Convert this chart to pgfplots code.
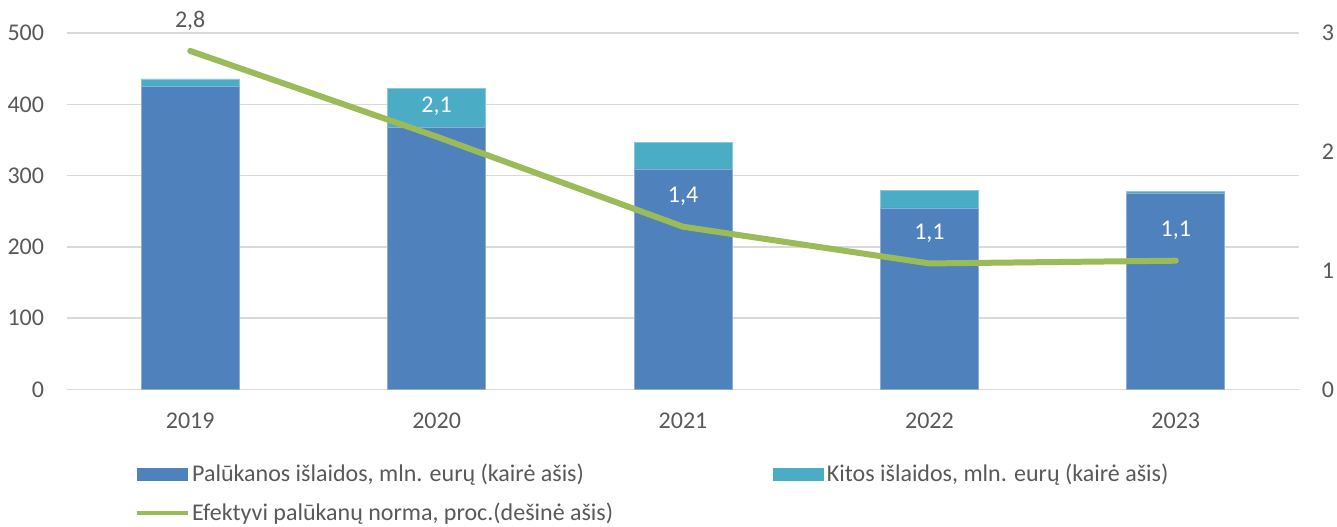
\documentclass[border=0pt]{standalone}
\usepackage{fontspec}
\setmainfont{Carlito}
\usepackage{pgfplots}
\pgfplotsset{compat=1.18}
\definecolor{bluebar}{HTML}{4F81BD}
\definecolor{cyanbar}{HTML}{4BACC6}
\definecolor{greenline}{HTML}{9BBB59}
\definecolor{txt}{HTML}{595959}
\definecolor{gridc}{HTML}{D9D9D9}
\newcommand\ff{\fontsize{18}{21.6}\selectfont}
\pgfplotsset{
    barkey/.style={legend image code/.code={\fill[##1] (0pt,-4.9pt) rectangle (38.25pt,4.9pt);}},
    linekey/.style={legend image code/.code={\draw[##1, line width=3pt, line cap=butt] (0pt,0pt) -- (38.25pt,0pt);}},
}
\begin{document}
\begin{tikzpicture}[font=\ff]
\useasboundingbox (0,0) rectangle (1002.75pt,395.25pt);
% bars, left axis
\begin{axis}[
    at={(50.25pt,103.1pt)}, anchor=south west,
    scale only axis, width=924pt, height=267.4pt,
    ybar stacked, bar width=73.5pt,
    xmin=-0.5, xmax=4.5,
    xtick={0,...,4}, xticklabels={2019,2020,2021,2022,2023},
    ymin=0, ymax=500, ytick={0,100,...,500},
    ymajorgrids, grid style={gridc, line width=1.2pt},
    axis line style={draw=none},
    major tick length=0pt,
    /pgf/number format/assume math mode=true,
    tick label style={font=\ff, text=txt},
    yticklabel style={inner sep=0pt, anchor=east, xshift=-17pt},
    xticklabel style={inner sep=0pt, anchor=north, yshift=-17.6pt},
]
\addplot[fill=bluebar, draw=white!35!bluebar, line width=0.6pt]
    coordinates {(0,425.5) (1,367.4) (2,309.3) (3,254.6) (4,275)};
\addplot[fill=cyanbar, draw=white!35!cyanbar, line width=0.6pt]
    coordinates {(0,10) (1,55) (2,37.6) (3,24.8) (4,3)};
\end{axis}
% line, right axis
\begin{axis}[
    at={(50.25pt,103.1pt)}, anchor=south west,
    scale only axis, width=924pt, height=267.4pt,
    xmin=-0.5, xmax=4.5, hide x axis,
    ymin=0, ymax=3, ytick={0,1,2,3},
    axis y line*=right, axis line style={draw=none},
    major tick length=0pt,
    /pgf/number format/assume math mode=true,
    tick label style={font=\ff, text=txt},
    yticklabel style={inner sep=0pt, anchor=west, xshift=17pt},
    legend columns=2,
    legend cell align=left,
    legend style={at={(0.0546,-0.2917)}, anchor=west, draw=none, fill=none,
        inner sep=0pt, row sep=10.5pt, font=\ff, text=txt,
        /tikz/every even column/.append style={column sep=118pt}},
]
\addlegendimage{fill=bluebar, draw=none, barkey}
\addlegendentry{Palūkanos išlaidos, mln. eurų (kairė ašis)}
\addlegendimage{fill=cyanbar, draw=none, barkey}
\addlegendentry{Kitos išlaidos, mln. eurų (kairė ašis)}
\addplot[greenline, line width=4.5pt, line cap=round, line join=round, linekey,
    point meta=explicit symbolic,
    nodes near coords={\pgfplotspointmeta},
    every node near coord/.append style={font=\ff, text=white, anchor=center, yshift=22.5pt}]
    coordinates {(0,2.849) [\textcolor{txt}{2,8}] (1,2.128) [2,1] (2,1.370) [1,4] (3,1.061) [1,1] (4,1.084) [1,1]};
\addlegendentry{Efektyvi palūkanų norma, proc.(dešinė ašis)}
\end{axis}
\end{tikzpicture}
\end{document}
